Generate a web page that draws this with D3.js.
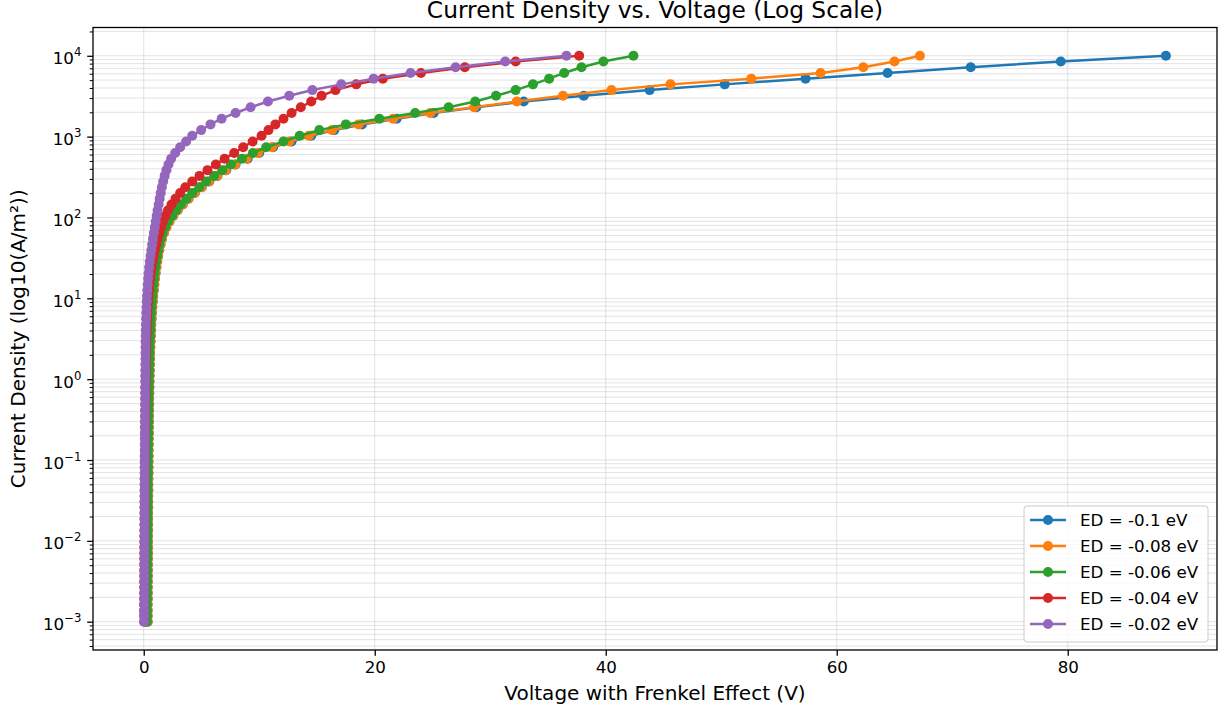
<!DOCTYPE html>
<html>
<head>
<meta charset="utf-8">
<script src="https://cdn.jsdelivr.net/npm/d3@7"></script>
<style>
	body { margin: 0; background: #fff; }
	text { font-family: "DejaVu Sans", sans-serif; fill: #000; }
	.grid line { stroke: #b0b0b0; stroke-opacity: 0.35; stroke-width: 1; }
</style>
</head>
<body>
<svg class="chartArea"></svg>
<script>

// Current density levels shared by every series (A/m^2)
var currentDensity = [
	0.001, 0.00118, 0.00138, 0.00163, 0.00192, 0.00226, 0.00266, 0.00313, 0.00368, 0.00433,
	0.00509, 0.00599, 0.00705, 0.0083, 0.00977, 0.0115, 0.0135, 0.0159, 0.0187, 0.0221,
	0.026, 0.0305, 0.0359, 0.0423, 0.0498, 0.0586, 0.0689, 0.0811, 0.0955, 0.112,
	0.132, 0.156, 0.183, 0.215, 0.254, 0.298, 0.351, 0.413, 0.486, 0.572,
	0.673, 0.792, 0.933, 1.1, 1.29, 1.52, 1.79, 2.1, 2.48, 2.92,
	3.43, 4.04, 4.75, 5.59, 6.58, 7.74, 9.11, 10.7, 12.6, 14.8,
	17.5, 20.6, 24.2, 28.5, 33.5, 39.4, 46.4, 54.6, 64.3, 75.6,
	89, 105, 123, 145, 171, 201, 236, 278, 327, 385,
	453, 534, 628, 739, 870, 1024, 1205, 1417, 1668, 1963,
	2310, 2719, 3199, 3765, 4431, 5214, 6136, 7221, 8498, 10000
];

// Voltage (V) for each series, one value per current density level
var voltageEd010 = [
	0.34, 0.34, 0.34, 0.34, 0.35, 0.35, 0.35, 0.35, 0.36, 0.36,
	0.36, 0.36, 0.37, 0.37, 0.37, 0.37, 0.38, 0.38, 0.38, 0.38,
	0.39, 0.39, 0.39, 0.4, 0.4, 0.4, 0.41, 0.41, 0.41, 0.42,
	0.42, 0.43, 0.43, 0.44, 0.44, 0.45, 0.45, 0.46, 0.47, 0.47,
	0.48, 0.49, 0.5, 0.51, 0.52, 0.53, 0.54, 0.55, 0.57, 0.59,
	0.61, 0.63, 0.65, 0.68, 0.71, 0.74, 0.78, 0.82, 0.87, 0.92,
	0.97, 1.03, 1.1, 1.17, 1.25, 1.34, 1.45, 1.58, 1.74, 1.96,
	2.23, 2.56, 2.94, 3.38, 3.88, 4.42, 5.02, 5.68, 6.38, 7.14,
	7.95, 9.0, 10.0, 11.2, 12.8, 14.5, 16.5, 18.9, 21.9, 25.1,
	28.8, 32.9, 38.1, 43.8, 50.3, 57.3, 64.4, 71.6, 79.4, 88.5
];
var voltageEd008 = [
	0.33, 0.33, 0.33, 0.33, 0.34, 0.34, 0.34, 0.34, 0.35, 0.35,
	0.35, 0.35, 0.36, 0.36, 0.36, 0.36, 0.37, 0.37, 0.37, 0.37,
	0.38, 0.38, 0.38, 0.39, 0.39, 0.39, 0.4, 0.4, 0.4, 0.41,
	0.41, 0.42, 0.42, 0.43, 0.43, 0.44, 0.44, 0.45, 0.46, 0.46,
	0.47, 0.48, 0.49, 0.5, 0.51, 0.52, 0.53, 0.54, 0.56, 0.58,
	0.6, 0.62, 0.64, 0.67, 0.7, 0.73, 0.77, 0.81, 0.86, 0.91,
	0.96, 1.02, 1.09, 1.16, 1.24, 1.33, 1.44, 1.57, 1.73, 1.95,
	2.22, 2.55, 2.93, 3.37, 3.87, 4.4, 5.0, 5.65, 6.35, 7.1,
	7.9, 8.9, 9.9, 11.1, 12.6, 14.3, 16.3, 18.6, 21.6, 24.8,
	28.6, 32.3, 36.3, 40.5, 45.6, 52.6, 58.6, 62.3, 65.0, 67.2
];
var voltageEd006 = [
	0.28, 0.28, 0.28, 0.28, 0.29, 0.29, 0.29, 0.29, 0.3, 0.3,
	0.3, 0.3, 0.31, 0.31, 0.31, 0.31, 0.32, 0.32, 0.32, 0.32,
	0.33, 0.33, 0.33, 0.34, 0.34, 0.34, 0.35, 0.35, 0.35, 0.36,
	0.36, 0.37, 0.37, 0.38, 0.38, 0.39, 0.39, 0.4, 0.41, 0.41,
	0.42, 0.43, 0.44, 0.45, 0.46, 0.47, 0.48, 0.49, 0.5, 0.52,
	0.54, 0.56, 0.58, 0.6, 0.63, 0.66, 0.7, 0.74, 0.78, 0.83,
	0.88, 0.94, 1.0, 1.07, 1.15, 1.24, 1.35, 1.48, 1.63, 1.85,
	2.1, 2.45, 2.8, 3.2, 3.7, 4.2, 4.8, 5.4, 6.1, 6.8,
	7.55, 8.5, 9.45, 10.6, 12.1, 13.5, 15.2, 17.5, 20.4, 23.5,
	26.4, 28.7, 30.5, 32.2, 33.7, 35.1, 36.4, 37.9, 39.8, 42.4
];
var voltageEd004 = [
	0.04, 0.04, 0.04, 0.04, 0.04, 0.05, 0.05, 0.05, 0.05, 0.05,
	0.05, 0.05, 0.06, 0.06, 0.06, 0.06, 0.07, 0.07, 0.07, 0.07,
	0.08, 0.08, 0.08, 0.09, 0.09, 0.09, 0.1, 0.1, 0.1, 0.11,
	0.11, 0.12, 0.12, 0.12, 0.13, 0.13, 0.14, 0.14, 0.15, 0.15,
	0.16, 0.16, 0.17, 0.18, 0.18, 0.19, 0.2, 0.21, 0.22, 0.23,
	0.24, 0.26, 0.28, 0.3, 0.32, 0.35, 0.38, 0.42, 0.46, 0.5,
	0.56, 0.62, 0.7, 0.78, 0.87, 0.97, 1.08, 1.2, 1.34, 1.5,
	1.68, 1.88, 2.1, 2.4, 2.75, 3.15, 3.6, 4.2, 4.83, 5.52,
	6.24, 7.0, 7.83, 8.61, 9.43, 10.2, 10.8, 11.4, 12.1, 12.8,
	13.6, 14.5, 15.4, 16.6, 18.4, 20.7, 24.0, 27.8, 32.2, 37.7
];
var voltageEd002 = [
	0.03, 0.03, 0.03, 0.03, 0.03, 0.04, 0.04, 0.04, 0.04, 0.04,
	0.04, 0.05, 0.05, 0.05, 0.05, 0.05, 0.05, 0.06, 0.06, 0.06,
	0.06, 0.06, 0.07, 0.07, 0.07, 0.07, 0.08, 0.08, 0.08, 0.08,
	0.09, 0.09, 0.09, 0.1, 0.1, 0.1, 0.11, 0.11, 0.11, 0.12,
	0.12, 0.12, 0.13, 0.13, 0.14, 0.14, 0.15, 0.15, 0.16, 0.16,
	0.17, 0.18, 0.19, 0.2, 0.22, 0.24, 0.26, 0.28, 0.31, 0.34,
	0.38, 0.42, 0.47, 0.53, 0.59, 0.66, 0.73, 0.8, 0.88, 0.96,
	1.04, 1.12, 1.2, 1.29, 1.38, 1.47, 1.57, 1.68, 1.81, 1.96,
	2.14, 2.37, 2.72, 3.15, 3.67, 4.2, 4.97, 5.78, 6.74, 7.95,
	9.25, 10.75, 12.6, 14.6, 17.1, 19.9, 23.1, 27.0, 31.3, 36.6
];

var seriesLabels = ["ED = -0.1 eV", "ED = -0.08 eV", "ED = -0.06 eV", "ED = -0.04 eV", "ED = -0.02 eV"];
var seriesVoltages = [voltageEd010, voltageEd008, voltageEd006, voltageEd004, voltageEd002];
var seriesColors = ["#1f77b4", "#ff7f0e", "#2ca02c", "#d62728", "#9467bd"];

var xTickValues = [0, 20, 40, 60, 80];
var yTickExponents = [-3, -2, -1, 0, 1, 2, 3, 4];

var graphHeader = "Current Density vs. Voltage (Log Scale)";
var xAxisTitle = "Voltage with Frenkel Effect (V)";
var yAxisTitle = "Current Density (log10(A/m\u00b2))";

drawGraph();

function drawGraph() {

	var totalWidth = 1228, totalHeight = 710;
	var margin = {top: 27.5, right: 11, bottom: 60, left: 93};
	var width = totalWidth - margin.left - margin.right,
		height = totalHeight - margin.top - margin.bottom;

	var dotRadius = 5, lineWidth = 2.5;

	// Build the working data
	var data = seriesVoltages.map(function(volts, i) {
		return {
			label: seriesLabels[i],
			color: seriesColors[i],
			points: volts.map(function(v, j) { return {volt: v, dens: currentDensity[j]}; })
		};
	});

	// matplotlib-like 5% padding on both axes
	var allVolts = d3.merge(seriesVoltages);
	var vMin = d3.min(allVolts), vMax = d3.max(allVolts);
	var vPad = (vMax - vMin) * 0.05;
	var lMin = Math.log10(d3.min(currentDensity)), lMax = Math.log10(d3.max(currentDensity));
	var lPad = (lMax - lMin) * 0.05;

	var x = d3.scaleLinear()
		.domain([vMin - vPad, vMax + vPad])
		.range([0, width]);

	var y = d3.scaleLog()
		.domain([Math.pow(10, lMin - lPad), Math.pow(10, lMax + lPad)])
		.range([height, 0]);

	var svg = d3.select(".chartArea")
		.attr("width", totalWidth)
		.attr("height", totalHeight);

	var chart = svg.append("g")
		.attr("transform", "translate(" + margin.left + "," + margin.top + ")");

	// Minor tick positions on the log axis
	var minorTicks = [];
	for (var e = -4; e <= 4; e++) {
		for (var m = 2; m <= 9; m++) {
			var val = m * Math.pow(10, e);
			if (val >= y.domain()[0] && val <= y.domain()[1]) minorTicks.push(val);
		}
	}
	var majorTicks = yTickExponents.map(function(e) { return Math.pow(10, e); });

	// Grid lines
	var grid = chart.append("g").attr("class", "grid");
	grid.selectAll(".ygrid")
		.data(majorTicks.concat(minorTicks))
	  .enter().append("line")
		.attr("x1", 0).attr("x2", width)
		.attr("y1", function(d) { return y(d); })
		.attr("y2", function(d) { return y(d); });
	grid.selectAll(".xgrid")
		.data(xTickValues)
	  .enter().append("line")
		.attr("y1", 0).attr("y2", height)
		.attr("x1", function(d) { return x(d); })
		.attr("x2", function(d) { return x(d); });

	// Clip for the plotted lines
	chart.append("clipPath").attr("id", "plotClip")
	  .append("rect")
		.attr("width", width).attr("height", height);

	var valueline = d3.line()
		.x(function(d) { return x(d.volt); })
		.y(function(d) { return y(d.dens); });

	var plot = chart.append("g").attr("clip-path", "url(#plotClip)");

	// Draw each series: line then dots
	data.forEach(function(s) {
		var g = plot.append("g");
		g.append("path")
			.datum(s.points)
			.attr("fill", "none")
			.attr("stroke", s.color)
			.attr("stroke-width", lineWidth)
			.attr("d", valueline);
		g.selectAll(".circle")
			.data(s.points)
		  .enter().append("circle")
			.attr("cx", function(d) { return x(d.volt); })
			.attr("cy", function(d) { return y(d.dens); })
			.attr("r", dotRadius)
			.attr("fill", s.color);
	});

	// Add the x axis
	var xAxis = d3.axisBottom(x)
		.tickValues(xTickValues)
		.tickSize(5.8)
		.tickPadding(5.2)
		.tickFormat(d3.format("d"));
	var gx = chart.append("g")
		.attr("class", "x axis")
		.attr("transform", "translate(0," + height + ")")
		.call(xAxis);
	gx.select(".domain").remove();
	gx.selectAll("text").style("font-size", "16.7px").style("font-family", "DejaVu Sans");
	gx.selectAll("line").attr("stroke-width", 1.3);

	// Add the y axis (major ticks, labels as 10^n)
	var yAxis = d3.axisLeft(y)
		.tickValues(majorTicks)
		.tickSize(5.8)
		.tickFormat("");
	var gy = chart.append("g")
		.attr("class", "y axis")
		.call(yAxis);
	gy.select(".domain").remove();
	gy.selectAll("line").attr("stroke-width", 1.3);

	var yMinor = d3.axisLeft(y)
		.tickValues(minorTicks)
		.tickSize(3.3)
		.tickFormat("");
	var gym = chart.append("g")
		.attr("class", "y axis minor")
		.call(yMinor);
	gym.select(".domain").remove();
	gym.selectAll("line").attr("stroke-width", 1);

	var yLabels = chart.append("g").attr("class", "ylabels");
	yTickExponents.forEach(function(e) {
		var t = yLabels.append("text")
			.attr("x", -11.6)
			.attr("y", y(Math.pow(10, e)) + 8.5)
			.attr("text-anchor", "end")
			.style("font-size", "16.7px");
		t.append("tspan").text("10");
		t.append("tspan")
			.attr("dy", -8)
			.style("font-size", "11.7px")
			.text(e < 0 ? "\u2212" + Math.abs(e) : String(e));
	});

	// Frame
	chart.append("rect")
		.attr("width", width)
		.attr("height", height)
		.attr("fill", "none")
		.attr("stroke", "#000")
		.attr("stroke-width", 1.3);

	// Add title
	chart.append("text")
		.attr("class", "graphtitle")
		.attr("x", width / 2)
		.attr("y", -10)
		.attr("text-anchor", "middle")
		.style("font-size", "23.3px")
		.text(graphHeader);

	// Axis titles
	chart.append("text")
		.attr("x", width / 2)
		.attr("y", height + 50)
		.attr("text-anchor", "middle")
		.style("font-size", "20px")
		.text(xAxisTitle);

	chart.append("text")
		.attr("transform", "rotate(-90)")
		.attr("x", -height / 2)
		.attr("y", -68)
		.attr("text-anchor", "middle")
		.style("font-size", "20px")
		.text(yAxisTitle);

	// Legend, lower right
	var legend = chart.append("g")
		.attr("transform", "translate(" + (width - 193) + "," + (height - 144) + ")");
	legend.append("rect")
		.attr("width", 184)
		.attr("height", 136)
		.attr("rx", 3)
		.attr("fill", "#fff")
		.attr("fill-opacity", 0.8)
		.attr("stroke", "#cccccc")
		.attr("stroke-width", 1);
	data.forEach(function(s, i) {
		var ry = 14 + i * 26;
		legend.append("line")
			.attr("x1", 6).attr("x2", 42)
			.attr("y1", ry).attr("y2", ry)
			.attr("stroke", s.color)
			.attr("stroke-width", lineWidth);
		legend.append("circle")
			.attr("cx", 24).attr("cy", ry)
			.attr("r", dotRadius)
			.attr("fill", s.color);
		legend.append("text")
			.attr("x", 56)
			.attr("y", ry + 6)
			.style("font-size", "16.7px")
			.text(s.label);
	});
}
</script>
</body>
</html>
